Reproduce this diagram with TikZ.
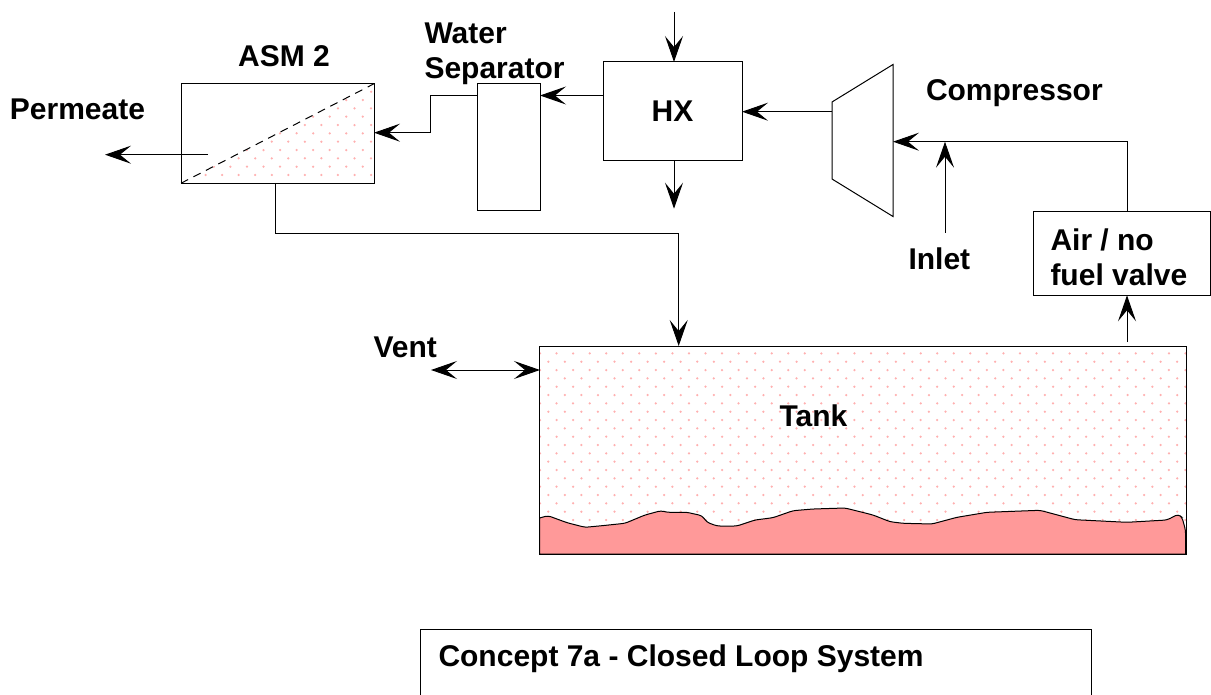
\documentclass[tikz,border=0pt]{standalone}
\usepackage{fontspec}
\setmainfont{Liberation Sans}
\usetikzlibrary{arrows.meta}
\definecolor{liquid}{HTML}{FF9999}
\definecolor{speck}{HTML}{FFB0B0}
\tikzset{
	unit/.style={draw, rectangle, line width=1pt, inner sep=0pt, outer sep=0pt},
	caption/.style={font=\fontsize{30}{35}\selectfont\bfseries, inner sep=0pt, align=left},
	>={Stealth[length=26pt, width=18pt, inset=11pt]}
}
\newcommand{\specks}[4]{%
	\foreach \row in {0,...,#4} {
		\pgfmathsetmacro{\shift}{mod(\row,2)*8.3}
		\foreach \col in {0,...,#3} {
			\fill[speck] ({#1+\shift+\col*16.55},{#2-\row*8.33}) circle (1.25);
		}
	}
}
\begin{document}
\begin{tikzpicture}[x=1pt, y=-1pt, line width=1pt]
	\useasboundingbox (0,0) rectangle (1211,695);

	% Punkte und Fluessigkeit
	\begin{scope}
		\clip (181,183) -- (374,84) -- (374,183) -- cycle;
		\specks{189}{175}{11}{11}
	\end{scope}
	\begin{scope}
		\clip (540,346) rectangle (1186,554);
		\specks{540}{520}{39}{20}
	\end{scope}
	\fill[liquid, draw=black, rounded corners=3pt] (539.5,518) -- (548,515.7) -- (567,522.7) -- (585,527.3) -- (602,525.7)
		-- (625,523.3) -- (645,515) -- (661,510.7) -- (667,512.3) -- (687,512.3) -- (702,515.7)
		-- (707,522.3) -- (717,526) -- (737,526) -- (755,520) -- (773,517.7) -- (793,510.7)
		-- (813,509) -- (845,508) -- (860,511.7) -- (873,515) -- (890,521.7) -- (903,523.3)
		-- (932,524) -- (957,517.3) -- (987,512.3) -- (1040,510.3) -- (1075,519.7) -- (1127,522.3)
		-- (1167,520) -- (1178,514.3) -- (1182,517.3) -- (1185.5,530) [sharp corners] -- (1185.5,554) -- (539.5,554) -- cycle;

	% Bloecke
	\draw (277.5,133.5) node[unit, minimum width=193pt, minimum height=99.5pt] (asm) {};
	\draw (508.5,147) node[unit, minimum width=63pt, minimum height=127pt] (separator) {};
	\draw (672.5,111.5) node[unit, minimum width=139pt, minimum height=99pt, font=\fontsize{30}{35}\selectfont\bfseries] (hx) {HX};
	\draw (1122,253.5) node[unit, minimum width=177pt, minimum height=83.5pt] (valve) {};
	\draw (862.75,450) node[unit, minimum width=646.5pt, minimum height=208pt] (tank) {};
	\draw[dashed, dash pattern=on 8pt off 6pt] (asm.south west) -- (asm.north east);
	\draw (832,102) coordinate (compIn) -- (893,64.5) -- (893,216.5) -- (832,179) -- cycle;
	\draw (420.6,695) -- (420.6,629) -- (1091,629) -- (1091,695);

	% Hilfspunkte
	\coordinate (hxTop) at (674,12);
	\coordinate (hxBottom) at (674,208.7);
	\coordinate (permStart) at (208,154.7);
	\coordinate (permEnd) at (105,154.7);
	\coordinate (inletStart) at (945,233);
	\coordinate (inletEnd) at (945,141.7);
	\coordinate (ventEnd) at (431,370);
	\coordinate (ventTank) at (540,370);

	% Pfeile
	\draw[->] (hxTop) -- (hxTop |- hx.north);
	\draw[->] (hxBottom |- hx.south) -- (hxBottom);
	\draw[->] (hx.west |- 0,95.5) -- (separator.east |- 0,95.5);
	\draw[->] (separator.west |- 0,95.5) -- (430,95.5) -- (430,132.7) -- (asm.east |- 0,132.7);
	\draw[->] (permStart) -- (permEnd);
	\draw[->] (832,111.7) -- (hx.east |- 0,111.7);
	\draw[->] (1127,211.7) -- (1127,141.7) -- (893,141.7);
	\draw[->] (inletStart) -- (inletEnd);
	\draw[->] (1127,342) -- (1127,295.3);
	\draw[->] (275.5,183) -- (275.5,233.7) -- (678.7,233.7) -- (678.7,346);
	\draw[<->] (ventEnd) -- (ventTank);

	% Beschriftung
	\draw (77.5,109) node[caption] (permeateText) {Permeate};
	\draw (284,56) node[caption] (asmText) {ASM 2};
	\draw (424,53.5) node[caption, anchor=west] (separatorText) {Water\\Separator};
	\draw (925.5,93) node[caption, anchor=west] (compressorText) {Compressor};
	\draw (908,259) node[caption, anchor=west] (inletText) {Inlet};
	\draw (1050,257.5) node[caption, anchor=west] (valveText) {Air / no\\fuel valve};
	\draw (373,347) node[caption, anchor=west] (ventText) {Vent};
	\draw (813.5,416) node[caption] (tankText) {Tank};
	\draw (438,659) node[caption, anchor=west] (conceptText) {Concept 7a - Closed Loop System};
\end{tikzpicture}
\end{document}
